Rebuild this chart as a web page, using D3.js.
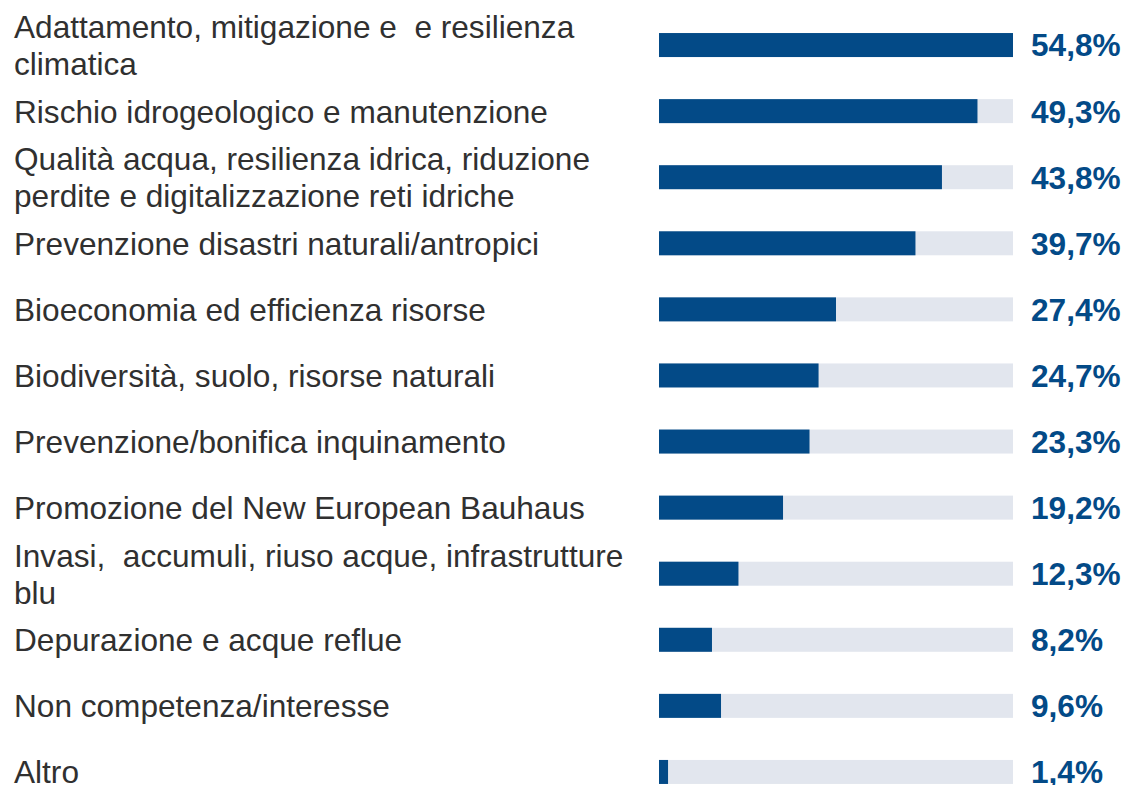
<!DOCTYPE html>
<html>
<head>
<meta charset="utf-8">
<script src="https://cdn.jsdelivr.net/npm/d3@7"></script>
<style>
    body { margin: 0; background: #fff; }
    svg { display: block; }
    .label { font-family: 'Liberation Sans', Arial, sans-serif; font-size: 31.6px; fill: #303030; white-space: pre; }
    .value { font-family: 'Liberation Sans', Arial, sans-serif; font-size: 31.6px; font-weight: bold; fill: #034a87; }
</style>
</head>
<body>
<svg id="chart" width="1129" height="785"></svg>
<script>
// categories (line breaks as in the original)
const categories = [
    'Adattamento, mitigazione e  e resilienza\nclimatica',
    'Rischio idrogeologico e manutenzione',
    'Qualità acqua, resilienza idrica, riduzione\nperdite e digitalizzazione reti idriche',
    'Prevenzione disastri naturali/antropici',
    'Bioeconomia ed efficienza risorse',
    'Biodiversità, suolo, risorse naturali',
    'Prevenzione/bonifica inquinamento',
    'Promozione del New European Bauhaus',
    'Invasi,  accumuli, riuso acque, infrastrutture\nblu',
    'Depurazione e acque reflue',
    'Non competenza/interesse',
    'Altro'
];

const values = [54.8, 49.3, 43.8, 39.7, 27.4, 24.7, 23.3, 19.2, 12.3, 8.2, 9.6, 1.4];

const data = categories.map((c, i) => ({ category: c, value: values[i] }));

const svg = d3.select('#chart');

const x = d3.scaleLinear()
    .domain([0, d3.max(values)])
    .range([659, 1013]);

const y = d3.scaleBand()
    .domain(categories)
    .range([12, 805]);

const barHeight = 24;
const lineGap = 37;

const rows = svg.selectAll('g.row')
    .data(data)
    .join('g')
    .classed('row', true)
    .attr('transform', d => 'translate(0,' + (y(d.category) + y.bandwidth() / 2) + ')');

// background track
rows.append('rect')
    .attr('x', x(0))
    .attr('y', -barHeight / 2)
    .attr('width', x.range()[1] - x(0))
    .attr('height', barHeight)
    .attr('fill', '#e2e6ee');

rows.append('rect')
    .attr('x', x(0))
    .attr('y', -barHeight / 2)
    .attr('width', d => x(d.value) - x(0))
    .attr('height', barHeight)
    .attr('fill', '#034a87');

rows.append('text')
    .classed('value', true)
    .attr('x', 1031)
    .attr('dy', '0.36em')
    .text(d => d3.format('.1f')(d.value).replace('.', ',') + '%');

rows.append('text')
    .classed('label', true)
    .each(function(d) {
        const lines = d.category.split('\n');
        const offset = -(lines.length - 1) * lineGap / 2;
        d3.select(this).selectAll('tspan')
            .data(lines)
            .join('tspan')
            .attr('x', 14)
            .attr('y', (l, i) => offset + i * lineGap)
            .attr('dy', '0.36em')
            .text(l => l);
    });
</script>
</body>
</html>
